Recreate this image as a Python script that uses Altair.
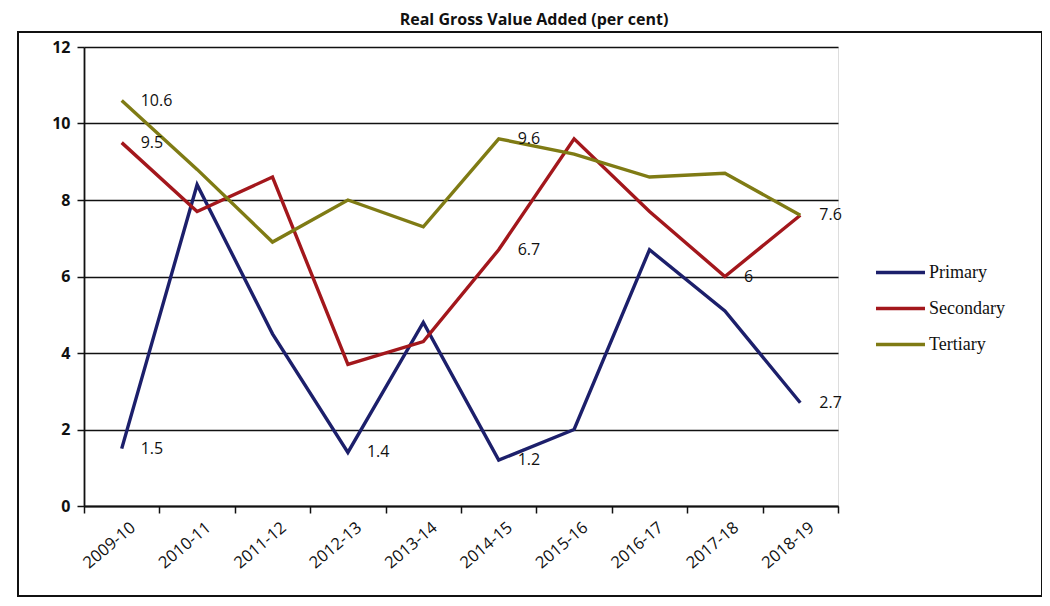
import altair as alt
import pandas as pd

years = ["2009-10", "2010-11", "2011-12", "2012-13", "2013-14",
         "2014-15", "2015-16", "2016-17", "2017-18", "2018-19"]
primary = [1.5, 8.4, 4.5, 1.4, 4.8, 1.2, 2.0, 6.7, 5.1, 2.7]
secondary = [9.5, 7.7, 8.6, 3.7, 4.3, 6.7, 9.6, 7.7, 6.0, 7.6]
tertiary = [10.6, 8.8, 6.9, 8.0, 7.3, 9.6, 9.2, 8.6, 8.7, 7.6]
series_names = ["Primary", "Secondary", "Tertiary"]
series_colors = ["#1c1f6b", "#a3171c", "#7f7b14"]

# which points carry a value label: (series, year)
labelled = [("Tertiary", "2009-10"), ("Secondary", "2009-10"), ("Primary", "2009-10"),
            ("Primary", "2012-13"), ("Primary", "2014-15"), ("Tertiary", "2014-15"),
            ("Secondary", "2014-15"), ("Secondary", "2017-18"), ("Secondary", "2018-19"),
            ("Primary", "2018-19")]

rows = []
for name, vals in zip(series_names, [primary, secondary, tertiary]):
    for y, v in zip(years, vals):
        rows.append({"year": y, "series": name, "value": v,
                     "label": (f"{v:g}" if (name, y) in labelled else "")})
df = pd.DataFrame(rows)

W, H = 754, 459

x_enc = alt.X("year:N", sort=years, title=None,
              scale=alt.Scale(type="band", paddingInner=0, paddingOuter=0),
              axis=alt.Axis(labelAngle=-40, labelAlign="right", labelBaseline="top",
                            labelFont="Open Sans", labelFontSize=16.5, labelColor="#111",
                            labelPadding=6, tickBand="extent", tickSize=7,
                            tickColor="#111", tickWidth=1.5, domainColor="#111",
                            domainWidth=1.8, grid=False, labelOffset=6))
y_enc = alt.Y("value:Q", title=None,
              scale=alt.Scale(domain=[0, 12], nice=False),
              axis=alt.Axis(values=[0, 2, 4, 6, 8, 10, 12], labelFont="Open Sans",
                            labelFontSize=16, labelFontWeight="bold", labelColor="#111",
                            labelPadding=7, tickSize=7, tickColor="#111", tickWidth=1.5,
                            domainColor="#111", domainWidth=1.8,
                            grid=True, gridColor="#111", gridWidth=1.6))

color_enc = alt.Color("series:N", sort=series_names,
                      scale=alt.Scale(domain=series_names, range=series_colors),
                      legend=alt.Legend(title=None, orient="none", legendX=790, legendY=199,
                                        symbolType="stroke", symbolSize=2400,
                                        symbolStrokeWidth=3.5, labelFont="Liberation Serif",
                                        labelFontSize=18, labelColor="#111",
                                        labelOffset=2, rowPadding=-14))

lines = alt.Chart(df).mark_line(strokeWidth=3.4).encode(x=x_enc, y=y_enc, color=color_enc)

labels = alt.Chart(df).mark_text(align="left", baseline="middle", dx=19,
                                 font="Open Sans", fontSize=16, color="#111").encode(
    x=alt.X("year:N", sort=years), y="value:Q", text="label:N")

frame = alt.Chart(pd.DataFrame({"k": [0]})).mark_rect(
    fill=None, stroke="#111", strokeWidth=2).encode(
    x=alt.value(-66), x2=alt.value(958), y=alt.value(-15), y2=alt.value(549))

title = alt.Chart(pd.DataFrame({"t": ["Real Gross Value Added (per cent)"]})).mark_text(
    font="Open Sans", fontSize=16, fontWeight="bold", color="#111",
    align="center", baseline="alphabetic").encode(
    x=alt.value(450), y=alt.value(-22), text="t:N")

chart = alt.layer(frame, title, lines, labels).properties(
    width=W, height=H,
    autosize=alt.AutoSizeParams(type="none"),
    padding={"left": 76, "top": 39, "right": 1034 - 76 - W, "bottom": 590 - 39 - H},
).configure_view(stroke=None).configure(background="white")

chart.save("out.html", embed_options={"renderer": "svg", "actions": False})
